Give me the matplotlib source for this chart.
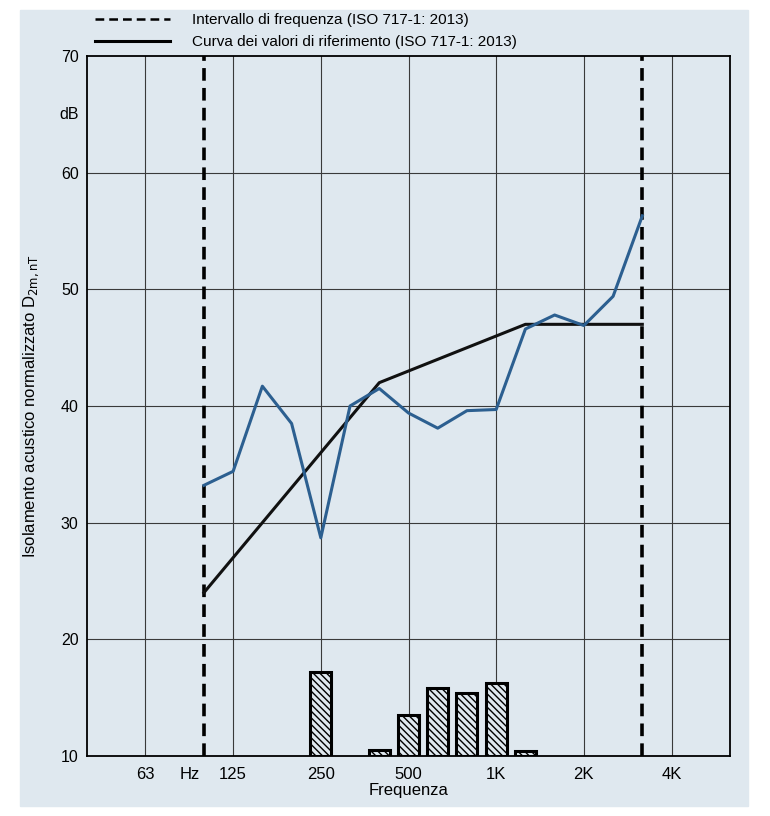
import numpy as np
import matplotlib
matplotlib.use("Agg")
import matplotlib.pyplot as plt
from matplotlib.patches import Rectangle

plt.rcParams['font.family'] = ['Liberation Sans', 'DejaVu Sans']
plt.rcParams['hatch.linewidth'] = 1.0

# third-octave bands of the measurement (ISO 717-1 range 100 Hz - 3150 Hz)
freqs = [100, 125, 160, 200, 250, 315, 400, 500, 630, 800, 1000, 1250, 1600, 2000, 2500, 3150]
measured = [33.2, 34.4, 41.7, 38.5, 28.7, 40.0, 41.5, 39.4, 38.1, 39.6, 39.7, 46.6, 47.8, 46.9, 49.4, 56.3]
reference = [24, 27, 30, 33, 36, 39, 42, 43, 44, 45, 46, 47, 47, 47, 47, 47]

# unfavourable deviations (bars drawn from the 10 dB baseline)
dev_freqs = [250, 400, 500, 630, 800, 1000, 1250]
dev_values = [7.2, 0.5, 3.5, 5.8, 5.4, 6.3, 0.4]

grid_freqs = [63, 125, 250, 500, 1000, 2000, 4000]
grid_labels = ['63', '125', '250', '500', '1K', '2K', '4K']
y_ticks = [10, 20, 30, 40, 50, 60, 70]

bg = '#dfe8ef'


def pos(f):
    # position in third-octave steps from 100 Hz
    return np.round(10 * np.log10(np.asarray(f, dtype=float) / 100.0))


fig = plt.figure(figsize=(7.7, 8.16), dpi=100, facecolor='white')
fig.patches.append(Rectangle((20 / 770, 10 / 816), 728 / 770, 796 / 816,
                             transform=fig.transFigure, color=bg, zorder=-10))

ax = fig.add_axes([87 / 770, 1 - 756 / 816, (730 - 87) / 770, (756 - 56) / 816])
ax.set_facecolor(bg)
ax.set_xlim(-4, 18)
ax.set_ylim(10, 70)

# grid
for g in pos(grid_freqs):
    ax.axvline(g, color='#3a3a3a', lw=0.8, zorder=1)
for yv in y_ticks[1:-1]:
    ax.axhline(yv, color='#3a3a3a', lw=0.8, zorder=1)

# frequency range boundaries
for f in (freqs[0], freqs[-1]):
    ax.axvline(pos(f), color='black', lw=2.6, dashes=(3.5, 2.0), zorder=4)

# deviation bars
ax.bar(pos(dev_freqs), dev_values, bottom=10, width=0.72, color=bg,
       edgecolor='black', lw=2.2, hatch='\\\\\\\\\\', zorder=3)

# reference curve and measured curve
ax.plot(pos(freqs), reference, color='#111111', lw=2.2, zorder=5)
ax.plot(pos(freqs), measured, color='#2c5f90', lw=2.2, zorder=6)

for s in ax.spines.values():
    s.set_linewidth(1.3)

ax.set_yticks(y_ticks)
ax.set_yticklabels([str(v) for v in y_ticks], fontsize=11.5)
ax.set_xticks(list(pos(grid_freqs)) + [-0.5])
ax.set_xticklabels(grid_labels + ['Hz'], fontsize=12)
ax.tick_params(axis='y', length=0, pad=6)
ax.tick_params(axis='x', length=0, pad=8)

ax.text(-4.6, 65, 'dB', ha='center', va='center', fontsize=11.5)
ax.set_xlabel('Frequenza', fontsize=12, labelpad=1)
ax.set_ylabel('Isolamento acustico normalizzato D$_{\\mathrm{2m,nT}}$', fontsize=12,
              labelpad=14)

# legend drawn at the top of the figure
fig.add_artist(plt.Line2D([95 / 770, 170 / 770], [1 - 19 / 816] * 2, color='black',
                          lw=1.8, dashes=(3.5, 2.0), transform=fig.transFigure))
fig.add_artist(plt.Line2D([95 / 770, 170 / 770], [1 - 41 / 816] * 2, color='black',
                          lw=2.2, transform=fig.transFigure))
fig.text(192 / 770, 1 - 20 / 816, 'Intervallo di frequenza (ISO 717-1: 2013)',
         va='center', fontsize=11)
fig.text(192 / 770, 1 - 42 / 816, 'Curva dei valori di riferimento (ISO 717-1: 2013)',
         va='center', fontsize=11)

fig.savefig('out.png', dpi=100, facecolor='white')
